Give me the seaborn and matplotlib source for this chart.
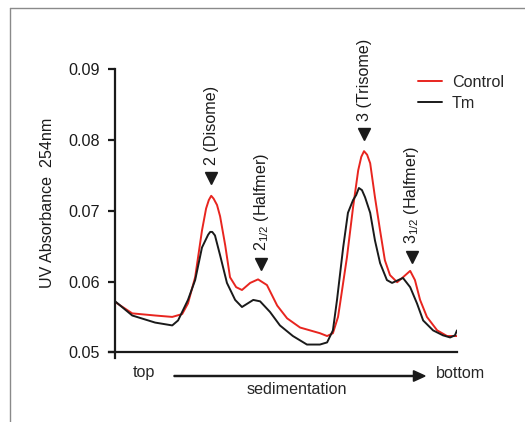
import numpy as np
import pandas as pd
import matplotlib.pyplot as plt
import matplotlib.transforms as mtransforms
from matplotlib.lines import Line2D
import seaborn as sns

# Gradient position (0 = top, 100 = bottom) and UV absorbance
control_pos = [0, 5.0, 11.7, 16.7, 19.6, 21.3, 23.4, 25.4, 26.6, 27.4, 28.1, 28.8, 29.8,
               30.7, 32.2, 33.6, 35.4, 37.1, 39.5, 41.8, 44.4, 47.4, 50.3, 54.1, 57.0,
               59.9, 62.0, 63.7, 65.2, 65.8, 67.8, 69.6, 71.1, 72.0, 72.8, 73.7, 74.6,
               76.0, 77.5, 78.9, 80.4, 82.5, 84.2, 86.3, 87.7, 89.2, 91.2, 94.2, 97.1, 100]
control_abs = [0.0571, 0.0555, 0.0552, 0.0550, 0.0554, 0.0569, 0.0606, 0.0672, 0.0703,
               0.0715, 0.0721, 0.0717, 0.0708, 0.0692, 0.0651, 0.0606, 0.0592, 0.0588,
               0.0598, 0.0603, 0.0595, 0.0566, 0.0548, 0.0535, 0.0531, 0.0527, 0.0523,
               0.0527, 0.0550, 0.0569, 0.0634, 0.0705, 0.0757, 0.0776, 0.0784, 0.0779,
               0.0767, 0.0719, 0.0672, 0.0630, 0.0609, 0.0599, 0.0606, 0.0615, 0.0602,
               0.0574, 0.0550, 0.0531, 0.0523, 0.0523]

tm_pos = [0, 5.0, 11.7, 16.7, 18.4, 21.3, 23.4, 25.4, 27.2, 27.8, 28.4, 29.2, 30.7, 32.7,
          35.1, 37.1, 40.4, 42.4, 45.3, 48.2, 52.0, 56.1, 59.9, 62.0, 63.7, 64.9, 66.7,
          68.1, 69.6, 70.5, 71.3, 72.2, 73.1, 74.6, 76.0, 77.5, 79.5, 81.0, 84.2, 86.3,
          88.3, 90.1, 93.0, 95.9, 98.0, 99.4, 100]
tm_abs = [0.0572, 0.0552, 0.0542, 0.0538, 0.0545, 0.0574, 0.0602, 0.0648, 0.0666,
          0.0670, 0.0670, 0.0665, 0.0637, 0.0598, 0.0574, 0.0564, 0.0574, 0.0572,
          0.0557, 0.0538, 0.0523, 0.0511, 0.0511, 0.0514, 0.0531, 0.0574, 0.0648,
          0.0697, 0.0715, 0.0722, 0.0732, 0.0729, 0.0719, 0.0697, 0.0658, 0.0626,
          0.0602, 0.0598, 0.0605, 0.0592, 0.0569, 0.0545, 0.0531, 0.0524, 0.0521,
          0.0524, 0.0531]

# peak annotations
peak_pos = [28.1, 42.7, 72.8, 86.8]
peak_labels = [r"2 (Disome)", r"$\mathregular{2_{1/2}}$ (Halfmer)",
               r"3 (Trisome)", r"$\mathregular{3_{1/2}}$ (Halfmer)"]

df = pd.concat([
    pd.DataFrame({"pos": control_pos, "abs": control_abs, "sample": "Control"}),
    pd.DataFrame({"pos": tm_pos, "abs": tm_abs, "sample": "Tm"}),
])

sns.set_style("ticks")
plt.rcParams["font.family"] = ["Liberation Sans", "DejaVu Sans"]
plt.rcParams["mathtext.fontset"] = "custom"
plt.rcParams["mathtext.rm"] = "Liberation Sans"
fs = 11.6

fig = plt.figure(figsize=(5.25, 4.22), dpi=100)
ax = fig.add_axes([109 / 525, 1 - 358 / 422, 348 / 525, (358 - 69) / 422])

sns.lineplot(data=df, x="pos", y="abs", hue="sample", estimator=None, sort=False,
             palette={"Control": "#e8251f", "Tm": "#1a1a1a"}, linewidth=1.4, ax=ax)

ax.set_xlim(-1.8, 100)
ax.set_ylim(0.0492, 0.09)
for side in ["top", "right"]:
    ax.spines[side].set_visible(False)
ax.spines["left"].set_position(("data", 0))
ax.spines["bottom"].set_position(("data", 0.05))
for side in ["left", "bottom"]:
    ax.spines[side].set_linewidth(1.6)
    ax.spines[side].set_color("#1a1a1a")
ax.set_xticks([])
ax.set_yticks([0.05, 0.06, 0.07, 0.08, 0.09])
ax.set_yticklabels(["0.05", "0.06", "0.07", "0.08", "0.09"])
ax.tick_params(axis="y", direction="out", length=5, width=1.6, labelsize=fs, pad=6,
               colors="#1a1a1a")
ax.set_xlabel("")
ax.set_ylabel("")

# triangles and labels above the control peaks
peak_vals = np.interp(peak_pos, control_pos, control_abs)
tri = mtransforms.offset_copy(ax.transData, fig=fig, x=0, y=12.5, units="points")
ax.plot(peak_pos, peak_vals, marker="v", markersize=8, color="#1a1a1a",
        linestyle="none", transform=tri)
for p, v, lab in zip(peak_pos, peak_vals, peak_labels):
    ax.annotate(lab, xy=(p, v), xytext=(0, 22), textcoords="offset points",
                rotation=90, ha="center", va="bottom", fontsize=fs, color="#1a1a1a")

leg = ax.legend(loc="upper left", bbox_to_anchor=(418 / 525, 1 - 75 / 422),
                bbox_transform=fig.transFigure, frameon=False, fontsize=fs,
                handlelength=1.5, handletextpad=0.6, labelspacing=0.35,
                borderpad=0, borderaxespad=0)

fig.text(48 / 525, 1 - 203 / 422, "UV Absorbance  254nm", rotation=90,
         ha="center", va="center", fontsize=fs, color="#1a1a1a")

# sedimentation arrow under the x axis
fig.text(144 / 525, 1 - 373 / 422, "top", ha="center", va="center", fontsize=fs)
fig.text(461 / 525, 1 - 373 / 422, "bottom", ha="center", va="center", fontsize=fs)
fig.text(297 / 525, 1 - 389 / 422, "sedimentation", ha="center", va="center", fontsize=fs)
fig.patches.append(plt.matplotlib.patches.FancyArrow(
    174 / 525, 1 - 376 / 422, (425 - 174) / 525, 0, width=0.0025,
    head_width=0.025, head_length=0.022, length_includes_head=True,
    color="#1a1a1a", transform=fig.transFigure, figure=fig))

# partial frame around the panel
fig.add_artist(Line2D([10 / 525, 1], [1 - 8 / 422, 1 - 8 / 422], color="#8a8a8a", lw=1,
                      transform=fig.transFigure))
fig.add_artist(Line2D([10 / 525, 10 / 525], [1 - 8 / 422, 0], color="#8a8a8a", lw=1,
                      transform=fig.transFigure))

fig.savefig("out.png", dpi=100)
